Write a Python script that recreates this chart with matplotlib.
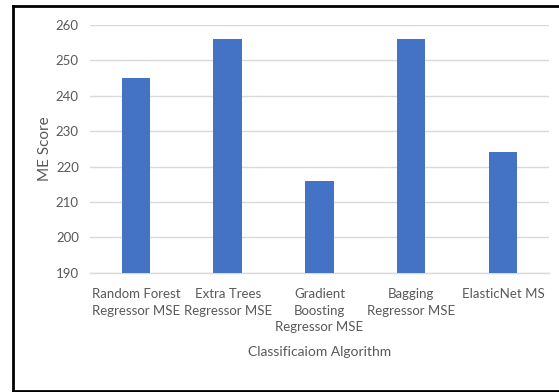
import matplotlib
matplotlib.use("Agg")
import matplotlib.pyplot as plt
from matplotlib.lines import Line2D

categories = [
    "Random Forest\nRegressor MSE",
    "Extra Trees\nRegressor MSE",
    "Gradient\nBoosting\nRegressor MSE",
    "Bagging\nRegressor MSE",
    "ElasticNet MS",
]
scores = [245, 256, 216, 256, 224]
y_ticks = [190, 200, 210, 220, 230, 240, 250, 260]

plt.rcParams["font.family"] = ["Lato", "DejaVu Sans"]
text_color = "#595959"

fig = plt.figure(figsize=(5.59, 3.92), dpi=100)
ax = fig.add_axes([0.161, 0.304, 0.821, 0.632])

x = list(range(len(categories)))
ax.bar(x, scores, width=0.31, color="#4472C4", zorder=3)

ax.set_ylim(y_ticks[0], y_ticks[-1])
ax.set_yticks(y_ticks)
ax.set_xlim(-0.5, len(categories) - 0.5)
ax.set_xticks(x)
ax.set_xticklabels(categories, fontsize=9.5, color=text_color, linespacing=1.45)
ax.tick_params(axis="y", labelsize=9.5, labelcolor=text_color, length=0, pad=8)
ax.tick_params(axis="x", length=0, pad=11)

ax.grid(axis="y", color="#D9D9D9", linewidth=1, zorder=0)
for side in ["top", "right", "left"]:
    ax.spines[side].set_visible(False)
ax.spines["bottom"].set_color("#D9D9D9")
ax.spines["bottom"].set_linewidth(1)

ax.set_ylabel("ME Score", fontsize=11, color=text_color, labelpad=3)
ax.set_xlabel("Classificaiom Algorithm", fontsize=10, color=text_color, labelpad=9)

# frame around the chart (left, top, bottom edges)
fw, fh = 559, 392
frame_kw = dict(color="black", linewidth=2, transform=fig.transFigure)
fig.add_artist(Line2D([12.5 / fw, 12.5 / fw], [1 - 5.5 / fh, 1 - 390.5 / fh], **frame_kw))
fig.add_artist(Line2D([12.5 / fw, 1.0], [1 - 5.5 / fh, 1 - 5.5 / fh], **frame_kw))
fig.add_artist(Line2D([12.5 / fw, 1.0], [1 - 390.5 / fh, 1 - 390.5 / fh], **frame_kw))

fig.savefig("out.png", dpi=100)
